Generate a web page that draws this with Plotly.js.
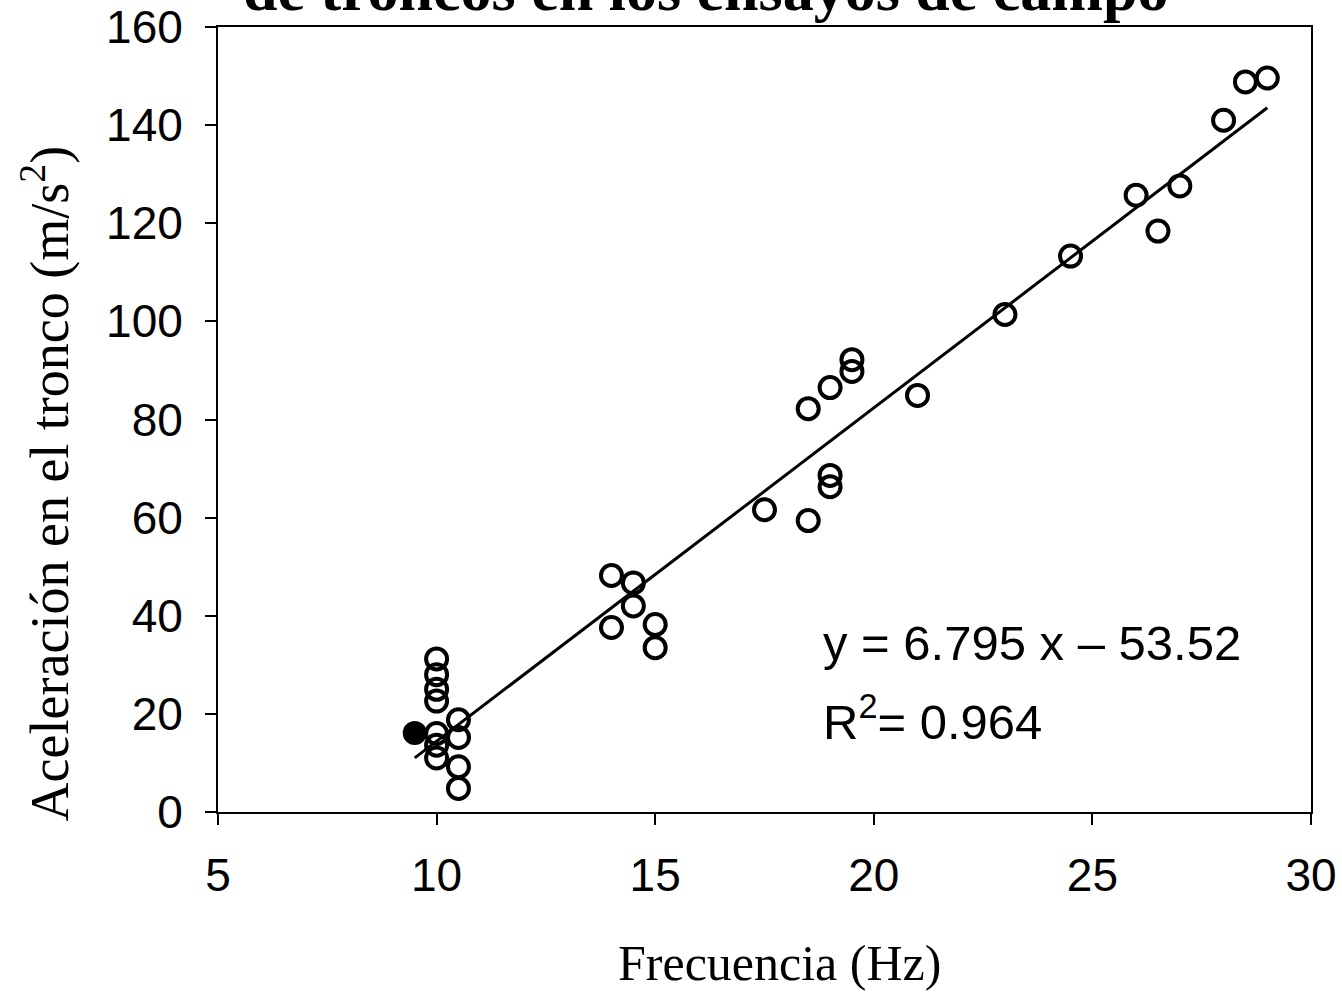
<!DOCTYPE html>
<html>
<head>
<meta charset="utf-8">
<script src="https://cdn.plot.ly/plotly-3.0.1.min.js"></script>
<style>html,body{margin:0;padding:0;background:#fff;}#chart{width:1342px;height:994px;}</style>
</head>
<body>
<div id="chart"></div>
<script>
// Open-circle observations
const freqOpen = [10, 10, 10, 10, 10, 10, 10,
                  10.5, 10.5, 10.5, 10.5,
                  14, 14, 14.5, 14.5, 15, 15,
                  17.5, 18.5, 18.5, 19, 19, 19, 19.5, 19.5,
                  21, 23, 24.5, 26, 26.5, 27, 28, 28.5, 29];
const accelOpen = [31.2, 28.0, 25.0, 22.6, 16.0, 13.6, 11.0,
                   18.8, 15.2, 9.2, 4.8,
                   48.2, 37.6, 46.7, 42.0, 38.2, 33.5,
                   61.6, 82.2, 59.4, 86.5, 68.6, 66.3, 92.2, 89.8,
                   84.9, 101.4, 113.3, 125.7, 118.4, 127.6, 141.0, 148.8, 149.6];
// Filled-circle observation
const freqFilled = [9.5];
const accelFilled = [16.1];
// Regression
const slope = 6.795;
const intercept = -53.52;
const fitX = [9.5, 29];
const fitY = fitX.map(x => slope * x + intercept);
// Axis ticks
const xTicks = [5, 10, 15, 20, 25, 30];
const yTicks = [0, 20, 40, 60, 80, 100, 120, 140, 160];

const serif = '"Liberation Serif", "Times New Roman", serif';
const sans = '"Liberation Sans", Arial, sans-serif';

const traces = [
  {x: fitX, y: fitY, mode: 'lines', type: 'scatter',
   line: {color: '#000', width: 3}, hoverinfo: 'skip', showlegend: false},
  {x: freqOpen, y: accelOpen, mode: 'markers', type: 'scatter',
   marker: {symbol: 'circle-open', size: 21, color: '#000', line: {width: 4, color: '#000'}},
   showlegend: false, cliponaxis: false},
  {x: freqFilled, y: accelFilled, mode: 'markers', type: 'scatter',
   marker: {symbol: 'circle', size: 24, color: '#000'},
   showlegend: false, cliponaxis: false}
];

const axisCommon = {
  showgrid: false, zeroline: false, showline: true, mirror: true,
  linecolor: '#000', linewidth: 2, ticks: 'outside', ticklen: 11,
  tickwidth: 2, tickcolor: '#000',
  tickfont: {family: sans, size: 46, color: '#000'}
};

const layout = {
  width: 1342, height: 994,
  margin: {l: 218, r: 31, t: 27, b: 182},
  paper_bgcolor: '#fff', plot_bgcolor: '#fff',
  showlegend: false,
  xaxis: Object.assign({}, axisCommon, {range: [5, 30], tickvals: xTicks, ticktext: xTicks.map(String), ticklabelstandoff: 11}),
  yaxis: Object.assign({}, axisCommon, {range: [0, 160], tickvals: yTicks, ticktext: yTicks.map(String), ticklabelstandoff: 13}),
  annotations: [
    {text: '<b>de troncos en los ensayos de campo</b>', xref: 'paper', yref: 'paper',
     x: 0.446, y: 1.0, yshift: 38, xanchor: 'center', yanchor: 'middle', showarrow: false,
     font: {family: serif, size: 62, color: '#000'}},
    {text: 'Frecuencia (Hz)', xref: 'paper', yref: 'paper',
     x: 0.514, y: -0.192, xanchor: 'center', yanchor: 'middle', showarrow: false,
     font: {family: serif, size: 50, color: '#000'}},
    {text: 'Aceleración en el tronco (m/s<sup>2</sup>)', xref: 'paper', yref: 'paper',
     x: -0.158, y: 0.419, xanchor: 'center', yanchor: 'middle', textangle: -90, showarrow: false,
     font: {family: serif, size: 54, color: '#000'}},
    {text: 'y = 6.795 x – 53.52', xref: 'paper', yref: 'paper',
     x: 0.552, y: 0.215, xanchor: 'left', yanchor: 'middle', showarrow: false,
     font: {family: sans, size: 49, color: '#000'}},
    {text: 'R<sup>2</sup>= 0.964', xref: 'paper', yref: 'paper',
     x: 0.552, y: 0.12, xanchor: 'left', yanchor: 'middle', showarrow: false,
     font: {family: sans, size: 49, color: '#000'}}
  ]
};

Plotly.newPlot('chart', traces, layout, {displayModeBar: false, staticPlot: true});
</script>
</body>
</html>
